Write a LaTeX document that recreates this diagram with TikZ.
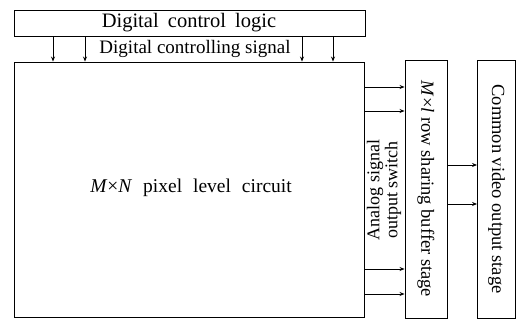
\documentclass[tikz,border=0pt]{standalone}
\usepackage{fontspec}
\setmainfont{Liberation Serif}
\usetikzlibrary{arrows.meta}
\begin{document}
\begin{tikzpicture}[x=1pt,y=-1pt,
  box/.style={draw, line width=0.9pt, inner sep=0pt},
  sig/.style={-{Stealth[length=5pt,width=4pt]}, line width=0.8pt},
  lbl/.style={font=\fontsize{18.5}{19}\selectfont, inner sep=0pt}]
\useasboundingbox (0,0) rectangle (516,320);
\node[box, minimum width=351pt, minimum height=26pt] (dcl) at (189.5,23) {};
\node[lbl, font=\fontsize{20.5}{21}\selectfont] at (189,22.5) {Digital\hspace{0.45em}control\hspace{0.45em}logic};
\node[box, minimum width=350pt, minimum height=255pt] (pix) at (189,189.5) {};
\node[lbl, font=\fontsize{19.5}{20}\selectfont] (pixt) at (191,188) {\textit{M}×\textit{N}\hspace{0.56em}pixel\hspace{0.56em}level\hspace{0.56em}circuit};
\node[lbl, font=\fontsize{19}{19}\selectfont] (dcs) at (195,48.5) {Digital controlling signal};
\node[box, minimum width=42pt, minimum height=258pt] (buf) at (426,189) {};
\node[box, minimum width=38pt, minimum height=258pt] (cvo) at (496.5,189) {};
\node[lbl, rotate=-90] at (buf.center) {\textit{M}×\textit{l} row sharing buffer stage};
\node[lbl, rotate=-90] at (cvo.center) {Common video output stage};
\node[lbl, rotate=90, align=center, font=\fontsize{18}{18}\selectfont] (asw) at (384,190) {Analog signal\\output switch};
\foreach \x in {53,85,302,333} {
  \draw[sig] (dcl.south -| \x,0) -- (pix.north -| \x,0);
}
\foreach \y in {87,111,269,294} {
  \draw[sig] (pix.east |- 0,\y) -- (buf.west |- 0,\y);
}
\foreach \y in {165,204} {
  \draw[sig] (buf.east |- 0,\y) -- (cvo.west |- 0,\y);
}
\end{tikzpicture}
\end{document}
